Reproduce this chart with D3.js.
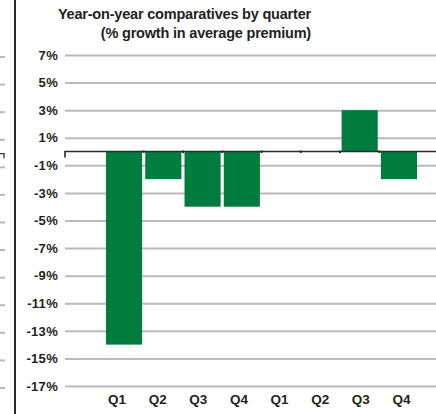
<!DOCTYPE html>
<html>
<head>
<meta charset="utf-8">
<script src="https://cdn.jsdelivr.net/npm/d3@7"></script>
<style>
  html, body { margin: 0; padding: 0; background: #fff; }
  svg { display: block; }
  text { font-family: "Liberation Sans", Arial, Helvetica, sans-serif; font-weight: bold; fill: #231f20; }
</style>
</head>
<body>
<svg id="chart" width="436" height="414"></svg>
<script>
// Quarterly year-on-year growth in average premium (%)
const quarters = ["Q1", "Q2", "Q3", "Q4", "Q1", "Q2", "Q3", "Q4"];
const growth = [-14, -2, -4, -4, 0, 0, 3, -2];
const tickValues = [7, 5, 3, 1, -1, -3, -5, -7, -9, -11, -13, -15, -17];
const titleLines = ["Year-on-year comparatives by quarter", "(% growth in average premium)"];

const W = 436, H = 414;
const svg = d3.select("#chart");

const plotLeft = 65, plotRight = 436;
const y = d3.scaleLinear().domain([7, -17]).range([55, 386]);
const idx = d3.range(quarters.length);
const x = d3.scaleBand().domain(idx).range([104.4, 418.6]).paddingInner(0.08).paddingOuter(0.04);
const xLabel = d3.scalePoint().domain(idx).range([116.5, 401]);

// left panel edge: divider and stubs of the neighbouring grid
svg.append("line").attr("x1", 15).attr("x2", 15).attr("y1", 0).attr("y2", H)
  .attr("stroke", "#2b2b2b").attr("stroke-width", 2);
const yNeighbour = d3.scaleLinear().domain([7, -17]).range([57, 388]);
svg.append("g").selectAll("line").data(tickValues).join("line")
  .attr("x1", 0).attr("x2", 5)
  .attr("y1", d => yNeighbour(d)).attr("y2", d => yNeighbour(d))
  .attr("stroke", "#bdb9b9").attr("stroke-width", 2);
svg.append("path")
  .attr("d", `M0,${yNeighbour(0)}H4V${yNeighbour(0) + 5}`)
  .attr("fill", "none").attr("stroke", "#2b2b2b").attr("stroke-width", 1.2);

// title
svg.append("g").selectAll("text").data(titleLines).join("text")
  .attr("x", 311).attr("y", (d, i) => 19 + i * 19)
  .attr("text-anchor", "end")
  .attr("font-size", 14.5)
  .attr("letter-spacing", -0.2)
  .text(d => d);

// horizontal grid
const yAxis = d3.axisLeft(y).tickValues(tickValues).tickSize(-(plotRight - plotLeft)).tickPadding(7)
  .tickFormat(d => d + "%");
const gy = svg.append("g").attr("transform", `translate(${plotLeft},0)`).call(yAxis);
gy.select(".domain").remove();
gy.selectAll(".tick line").attr("stroke", "#bdb9b9").attr("stroke-width", 2);
gy.selectAll(".tick text").attr("font-size", 13).attr("font-family", null).attr("fill", "#231f20")
  .attr("letter-spacing", 0.3);

// bars
svg.append("g").selectAll("rect").data(growth).join("rect")
  .attr("x", (d, i) => x(i))
  .attr("width", x.bandwidth())
  .attr("y", d => y(Math.max(0, d)))
  .attr("height", d => Math.abs(y(d) - y(0)))
  .attr("fill", "#007d3e");

// zero baseline
svg.append("path")
  .attr("d", `M${plotLeft},${y(0) + 6}V${y(0)}H${plotRight}`)
  .attr("fill", "none").attr("stroke", "#2b2b2b").attr("stroke-width", 1.6);
svg.append("g").selectAll("line").data(idx.slice(1)).join("line")
  .attr("x1", i => x(i) - x.step() * x.paddingInner() / 2)
  .attr("x2", i => x(i) - x.step() * x.paddingInner() / 2)
  .attr("y1", y(0) - 1).attr("y2", y(0) + 1.5)
  .attr("stroke", "#2b2b2b").attr("stroke-width", 2);

// quarter labels
const xAxis = d3.axisBottom(xLabel).tickSize(0).tickFormat(i => quarters[i]);
const gx = svg.append("g").attr("transform", `translate(0,394)`).call(xAxis);
gx.select(".domain").remove();
gx.selectAll(".tick text").attr("font-size", 13.5).attr("font-family", null).attr("fill", "#231f20")
  .attr("dy", "0.71em").attr("y", 0);
</script>
</body>
</html>
